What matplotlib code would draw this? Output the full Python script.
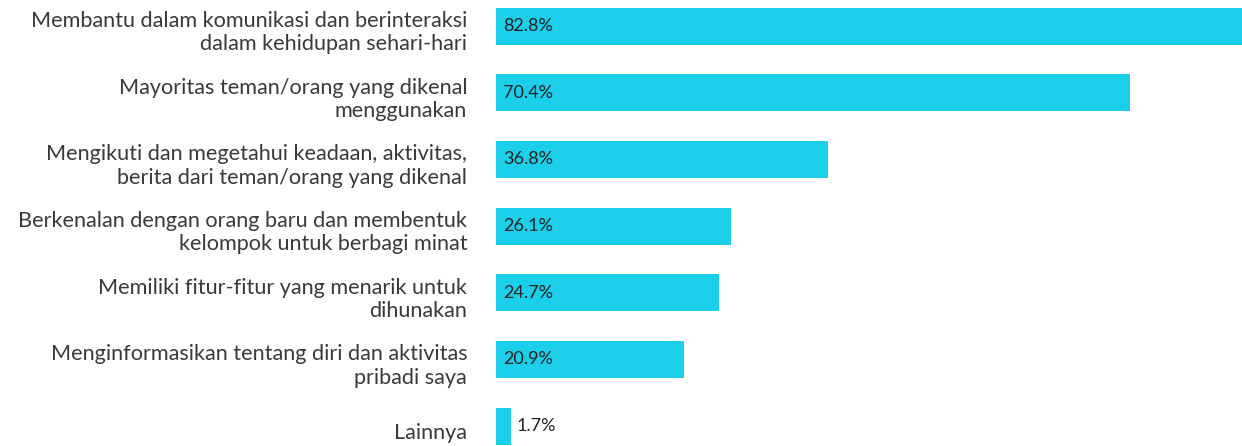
import matplotlib
matplotlib.use("Agg")
import matplotlib.pyplot as plt

labels = [
    "Membantu dalam komunikasi dan berinteraksi\ndalam kehidupan sehari-hari",
    "Mayoritas teman/orang yang dikenal\nmenggunakan",
    "Mengikuti dan megetahui keadaan, aktivitas,\nberita dari teman/orang yang dikenal",
    "Berkenalan dengan orang baru dan membentuk\nkelompok untuk berbagi minat",
    "Memiliki fitur-fitur yang menarik untuk\ndihunakan",
    "Menginformasikan tentang diri dan aktivitas\npribadi saya",
    "Lainnya",
]
values = [82.8, 70.4, 36.8, 26.1, 24.7, 20.9, 1.7]

plt.rcParams["font.family"] = ["Lato", "DejaVu Sans"]

fig = plt.figure(figsize=(12.42, 4.46), dpi=100)
ax = fig.add_axes([0.3994, 0, 0.6006, 1])

pos = list(range(len(values)))
ax.barh(pos, values, height=0.555, color="#1BCFEA")
ax.set_xlim(0, 82.8)
ax.set_ylim(6.3, -0.39)

for y, lab, v in zip(pos, labels, values):
    ax.text(-3.2, y + 0.1, lab, ha="right", va="center", fontsize=15.6,
            color="#3a3a3a", linespacing=1.2)
    if v > 5:
        ax.text(0.8, y, f"{v}%", ha="left", va="center", fontsize=13, color="#222222")
    else:
        ax.text(v + 0.6, y, f"{v}%", ha="left", va="center", fontsize=13, color="#222222")

ax.axis("off")
fig.savefig("out.png", dpi=100)
